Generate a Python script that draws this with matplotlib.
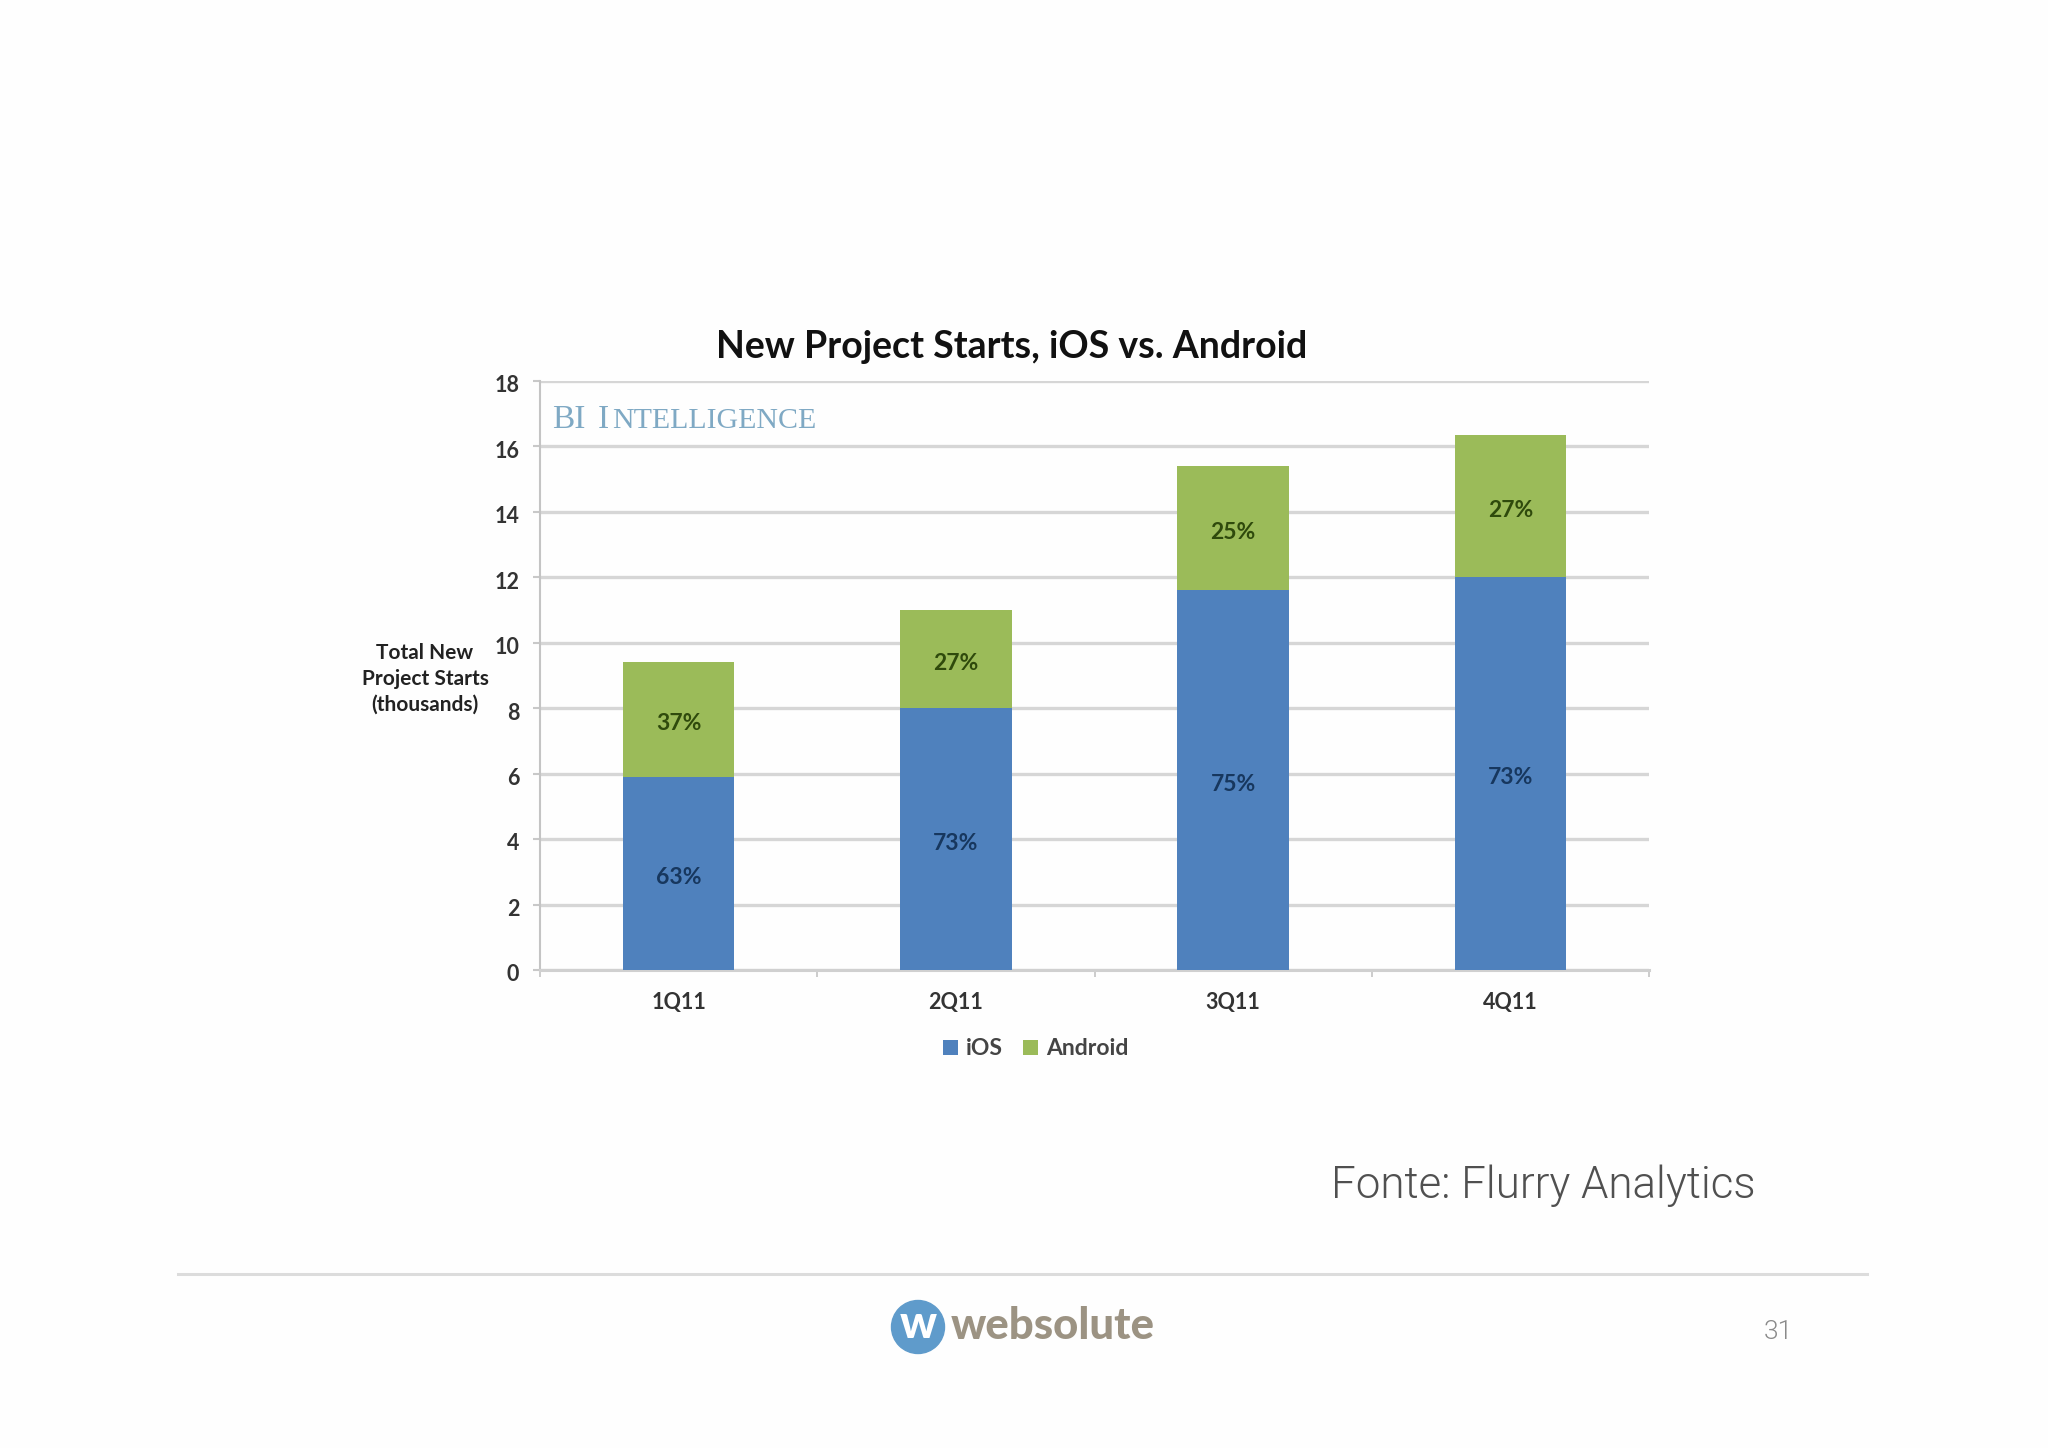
import matplotlib
matplotlib.use("Agg")
import matplotlib.pyplot as plt
from matplotlib.patches import Circle
from matplotlib.transforms import ScaledTranslation

quarters = ["1Q11", "2Q11", "3Q11", "4Q11"]
ios_values = [5.9, 8.0, 11.6, 12.0]
android_values = [3.5, 3.0, 3.8, 4.35]
ios_share = ["63%", "73%", "75%", "73%"]
android_share = ["37%", "27%", "25%", "27%"]
y_ticks = [0, 2, 4, 6, 8, 10, 12, 14, 16, 18]

W, H = 2048, 1448
plt.rcParams["font.family"] = ["Lato", "DejaVu Sans"]

fig = plt.figure(figsize=(W / 100, H / 100), dpi=100, facecolor="#fefefe")


def px_text(x, y, s, **kw):
    # position in pixels of the page, origin top left
    return fig.text(x / W, 1 - y / H, s, **kw)


# main chart
left, right, top, bottom = 540, 1649, 381, 970
ax = fig.add_axes([left / W, 1 - bottom / H, (right - left) / W, (bottom - top) / H])
ax.set_facecolor("none")

x = list(range(len(quarters)))
bars_ios = ax.bar(x, ios_values, width=0.402, color="#4f81bd", label="iOS", zorder=3)
bars_android = ax.bar(x, android_values, width=0.402, bottom=ios_values,
                      color="#9bbb59", label="Android", zorder=3)

ios_labels = ax.bar_label(bars_ios, labels=ios_share, label_type="center", fontsize=16.5,
                          fontweight="bold", color="#17375e", zorder=4)
android_labels = ax.bar_label(bars_android, labels=android_share, label_type="center",
                              fontsize=16.5, fontweight="bold", color="#2f4a0c", zorder=4)
for label in list(ios_labels) + list(android_labels):
    label.xyann = (0, -3)

ax.set_xlim(-0.5, 3.5)
ax.set_ylim(0, 18)
ax.set_yticks(y_ticks)
ax.set_xticks(x)
ax.set_xticklabels(quarters, fontsize=15.5, fontweight="bold", color="#333333")
ax.set_xticks([-0.5, 0.5, 1.5, 2.5, 3.5], minor=True)
ax.tick_params(axis="x", which="major", length=0, pad=16)
ax.tick_params(axis="x", which="minor", length=5, width=1.2, color="#c4c4c4")
ax.tick_params(axis="y", length=5, width=1.5, color="#c8c8c8", pad=10,
               labelsize=15.5, labelcolor="#333333")
tick_shift = ScaledTranslation(0, -2 / 72, fig.dpi_scale_trans)
for label in ax.get_yticklabels():
    label.set_fontweight("bold")
    label.set_transform(label.get_transform() + tick_shift)

ax.grid(axis="y", color="#d6d6d6", linewidth=2.4, zorder=1)
ax.set_axisbelow(True)
for side in ["right", "top"]:
    ax.spines[side].set_visible(False)
ax.spines["left"].set_color("#c4c4c4")
ax.spines["left"].set_linewidth(1.5)
ax.spines["bottom"].set_color("#d0d0d0")
ax.spines["bottom"].set_linewidth(2.2)

legend = ax.legend(loc="center", bbox_to_anchor=(0.447, -0.134), ncol=2, frameon=False,
                   handlelength=0.65, handleheight=0.65, handletextpad=0.35,
                   columnspacing=0.85, prop={"size": 16.5, "weight": "bold"})
for text in legend.get_texts():
    text.set_color("#444444")

# titles and the side label
px_text(1012, 347, "New Project Starts, iOS vs. Android", fontsize=27, fontweight="bold",
        color="#111111", ha="center", va="center")
px_text(425, 679, "Total New\nProject Starts\n(thousands)", fontsize=15, fontweight="bold",
        color="#222222", ha="center", va="center", linespacing=1.35)

# small caps watermark
for px, size, part in [(552, 24, "BI"), (598, 24, "I"), (612, 21.5, "NTELLIGENCE")]:
    px_text(px, 428, part, fontsize=size, family="Liberation Serif", color="#7fa9c4",
            ha="left", va="baseline")

# source note and footer
px_text(1331, 1186, "Fonte: Flurry Analytics", fontsize=31.6, family="Roboto", fontweight=300,
        color="#505050", ha="left", va="center")
fig.add_artist(plt.Line2D([178 / W, 1867 / W], [1 - 1274 / H, 1 - 1274 / H],
                          color="#dcdcdc", linewidth=2.2))

logo = fig.add_axes([0, 0, 1, 1], facecolor="none")
logo.set_xlim(0, W)
logo.set_ylim(H, 0)
logo.axis("off")
logo.add_patch(Circle((918, 1327), 26.5, color="#5f9bcb"))
logo.text(918, 1325, "w", fontsize=33, fontweight="black", color="white",
          ha="center", va="center")
logo.text(951, 1326, "websolute", fontsize=31.5, fontweight="black", color="#9c9383",
          ha="left", va="center")
logo.text(1778, 1332, "31", fontsize=19, family="Roboto", fontweight=300, color="#8a8a8a",
          ha="center", va="center")

fig.savefig("out.png", dpi=100, facecolor=fig.get_facecolor())
